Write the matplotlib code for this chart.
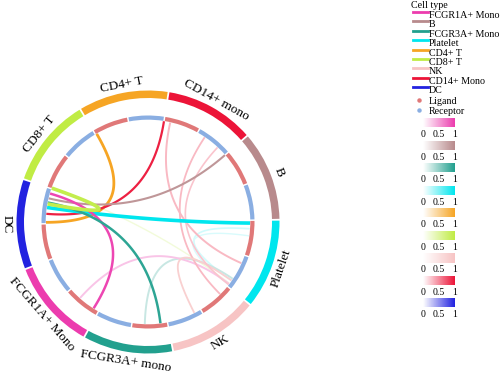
import numpy as np
import matplotlib.pyplot as plt
from matplotlib.patches import Wedge
from matplotlib.lines import Line2D
from matplotlib.colors import to_rgb, LinearSegmentedColormap

plt.rcParams['font.family'] = ['Liberation Serif', 'DejaVu Serif']

# sectors, clockwise from the top right
cells = ['CD14+ mono', 'B', 'Platelet', 'NK', 'FCGR3A+ mono',
         'FCGR1A+ Mono', 'DC', 'CD8+ T', 'CD4+ T']
cell_colors = ['#ec1438', '#b88a8c', '#00e6ee', '#f7c4c4', '#22a08e',
               '#ec3cae', '#2222e0', '#c0ec44', '#f6a524']

# legend order
legend_cells = ['FCGR1A+ Mono', 'B', 'FCGR3A+ Mono', 'Platelet', 'CD4+ T',
                'CD8+ T', 'NK', 'CD14+ Mono', 'DC']
legend_colors = ['#ec3cae', '#b88a8c', '#22a08e', '#00e6ee', '#f6a524',
                 '#c0ec44', '#f7c4c4', '#ec1438', '#2222e0']

ligand_color = '#e07878'
receptor_color = '#8aaee2'

# links: ligand cell / position in sector -> receptor cell / position, value, width
link_from = ['Platelet', 'Platelet', 'CD8+ T', 'FCGR3A+ mono', 'FCGR1A+ Mono',
             'CD14+ mono', 'CD14+ mono', 'NK', 'CD14+ mono',
             'CD4+ T', 'CD14+ mono', 'B', 'Platelet', 'FCGR1A+ Mono',
             'FCGR3A+ mono', 'CD8+ T']
link_from_pos = [0.12, 0.22, 0.0, 0.32, 0.32,
                 0.09, 0.62, 0.6, 0.85,
                 0.02, 0.0, 0.0, 0.04, 0.08,
                 0.1, 0.01]
link_to = ['Platelet', 'Platelet', 'Platelet', 'Platelet', 'Platelet',
           'Platelet', 'NK', 'Platelet', 'Platelet',
           'DC', 'DC', 'DC', 'DC', 'DC',
           'DC', 'DC']
link_to_pos = [0.9, 0.97, 0.95, 0.87, 0.96,
               0.62, 0.15, 0.9, 0.97,
               0.52, 0.64, 0.86, 0.73, 0.93,
               0.8, 0.78]
link_value = [0.18, 0.15, 0.2, 0.25, 0.3,
              0.3, 0.3, 0.8, 0.25,
              1.0, 0.95, 0.9, 1.0, 0.95,
              0.95, 0.95]
link_width = [1.2, 1.0, 1.0, 1.4, 1.4,
              1.4, 1.3, 1.3, 1.2,
              2.0, 1.6, 1.5, 2.6, 1.8,
              1.8, 2.6]

start = 81.0
span = 40.0


def angle_of(cell, pos):
    i = cells.index(cell)
    return start - (i + pos) * span


def fade(c, v):
    c = np.array(to_rgb(c))
    return tuple(1 - v + v * c)


fig = plt.figure(figsize=(5, 3.74), dpi=100)
ax = fig.add_axes([0, 0, 1, 1])
ax.set_xlim(-148, 352)
ax.set_ylim(-152, 222)
ax.axis('off')

# outer ring with cell type labels
for i, (name, col) in enumerate(zip(cells, cell_colors)):
    t2 = start - i * span - 0.4
    t1 = start - (i + 1) * span + 0.4
    ax.add_patch(Wedge((0, 0), 131.5, t1, t2, width=7.5, color=col, lw=0))
    mid = (start - (i + 0.5) * span + 180) % 360 - 180
    if 0 < mid < 180:
        rot, r = mid - 90, 140
    else:
        rot, r = mid + 90, 141
    a = np.radians(mid)
    ax.text(r * np.cos(a), r * np.sin(a), name, rotation=rot, fontsize=9.5,
            ha='center', va='center', rotation_mode='anchor')

# inner ring: ligand half then receptor half
for i in range(len(cells)):
    for j, col in enumerate([ligand_color, receptor_color]):
        t2 = start - i * span - j * span / 2 - 0.4
        t1 = t2 - span / 2 + 0.8
        ax.add_patch(Wedge((0, 0), 106.5, t1, t2, width=4.2, color=col, lw=0))

# links as quadratic bezier curves through the centre
t = np.linspace(0, 1, 100)
for f, fp, to, tp, v, w in zip(link_from, link_from_pos, link_to, link_to_pos,
                               link_value, link_width):
    a1 = np.radians(angle_of(f, fp))
    a2 = np.radians(angle_of(to, tp))
    r = 102
    p1 = np.array([r * np.cos(a1), r * np.sin(a1)])
    p2 = np.array([r * np.cos(a2), r * np.sin(a2)])
    x = (1 - t) ** 2 * p1[0] + t ** 2 * p2[0]
    y = (1 - t) ** 2 * p1[1] + t ** 2 * p2[1]
    col = fade(cell_colors[cells.index(f)], v)
    ax.plot(x, y, color=col, lw=w, solid_capstyle='butt')

# legend
W, H = 500.0, 374.0
fig.text(411 / W, 1 - 6 / H, 'Cell type', fontsize=7.2, va='center')
for k, (name, col) in enumerate(zip(legend_cells, legend_colors)):
    yl = 12 + k * 9.4
    fig.add_artist(Line2D([413 / W, 428 / W], [1 - yl / H, 1 - yl / H],
                          color=col, lw=2, transform=fig.transFigure))
    fig.text(429 / W, 1 - (yl + 3.5) / H, name, fontsize=7.2, va='center')

for k, (name, col) in enumerate(zip(['Ligand', 'Receptor'],
                                    [ligand_color, receptor_color])):
    yl = 100 + k * 10
    fig.add_artist(Line2D([419 / W], [1 - yl / H], marker='o', ms=2.2,
                          color=col, lw=0, transform=fig.transFigure))
    fig.text(429 / W, 1 - (yl + 1) / H, name, fontsize=7.2, va='center')

grad = np.linspace(0, 1, 100).reshape(1, -1)
for k, col in enumerate(legend_colors):
    top = 118 + k * 22.5
    cax = fig.add_axes([423 / W, 1 - (top + 9.5) / H, 32 / W, 9.5 / H])
    cmap = LinearSegmentedColormap.from_list('g', ['white', col])
    cax.imshow(grad, aspect='auto', cmap=cmap, extent=[0, 1, 0, 1])
    cax.set_xticks([0, 0.5, 1])
    cax.set_xticklabels(['0', '0.5', '1'], fontsize=7)
    cax.set_yticks([])
    cax.tick_params(length=0, pad=2)
    for s in cax.spines.values():
        s.set_visible(False)

fig.savefig('out.png', dpi=100)
